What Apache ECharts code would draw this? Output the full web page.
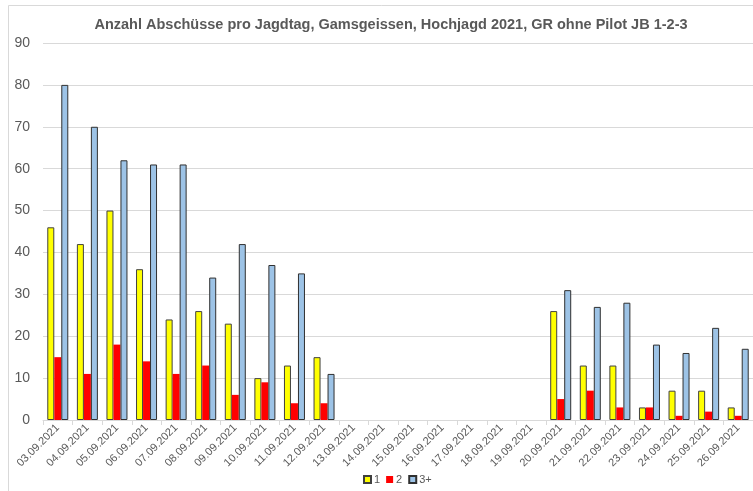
<!DOCTYPE html>
<html>
<head>
<meta charset="utf-8">
<script src="https://cdn.jsdelivr.net/npm/echarts@6/dist/echarts.min.js"></script>
<style>
  html, body { margin: 0; padding: 0; background: #fff; }
  #chart { width: 753px; height: 491px; }
</style>
</head>
<body>
<div id="chart"></div>
<script>
// Jagdtage
var tage = [
  "03.09.2021", "04.09.2021", "05.09.2021", "06.09.2021", "07.09.2021", "08.09.2021",
  "09.09.2021", "10.09.2021", "11.09.2021", "12.09.2021", "13.09.2021", "14.09.2021",
  "15.09.2021", "16.09.2021", "17.09.2021", "18.09.2021", "19.09.2021", "20.09.2021",
  "21.09.2021", "22.09.2021", "23.09.2021", "24.09.2021", "25.09.2021", "26.09.2021"
];
// Abschüsse je Klasse (null = kein Jagdtag / keine Einträge)
var jb1 = [46, 42, 50, 36, 24, 26, 23, 10, 13, 15, null, null, null, null, null, null, null, 26, 13, 13, 3, 7, 7, 3];
var jb2 = [15, 11, 18, 14, 11, 13, 6, 9, 4, 4, null, null, null, null, null, null, null, 5, 7, 3, 3, 1, 2, 1];
var jb3 = [80, 70, 62, 61, 61, 34, 42, 37, 35, 11, null, null, null, null, null, null, null, 31, 27, 28, 18, 16, 22, 17];

var chart = echarts.init(document.getElementById("chart"));

var option = {
  backgroundColor: "#fff",
  animation: false,
  textStyle: { fontFamily: "Liberation Sans, Arial, sans-serif" },
  title: {
    text: "Anzahl Abschüsse pro Jagdtag, Gamsgeissen, Hochjagd 2021, GR ohne Pilot JB 1-2-3",
    left: 386,
    top: 12,
    textAlign: "center",
    textStyle: { fontSize: 14.5, fontWeight: "bold", color: "#595959" }
  },
  legend: {
    data: ["1", "2", "3+"],
    icon: "rect",
    left: 358,
    top: 469,
    itemWidth: 7,
    itemHeight: 7,
    itemGap: 6,
    textStyle: { fontSize: 11, color: "#595959", padding: [0, 0, 0, -2] }
  },
  grid: { left: 43, top: 43, width: 718, bottom: 71 },
  graphic: [
    {
      // Diagrammrahmen
      type: "rect",
      shape: { x: 8.5, y: 5.5, width: 900, height: 700 },
      style: { fill: "none", stroke: "#d9d9d9", lineWidth: 1 },
      silent: true
    }
  ],
  xAxis: {
    type: "category",
    data: tage,
    axisLine: { lineStyle: { color: "#d9d9d9", width: 1 } },
    axisTick: { show: true, length: 5, lineStyle: { color: "#d9d9d9" } },
    axisLabel: { rotate: 45, fontSize: 11, color: "#595959", margin: 6, interval: 0 }
  },
  yAxis: {
    type: "value",
    min: 0,
    max: 90,
    interval: 10,
    axisLine: { show: false },
    axisTick: { show: false },
    splitLine: { lineStyle: { color: "#d9d9d9", width: 1 } },
    axisLabel: { fontSize: 14, color: "#595959", margin: 13 }
  },
  series: [
    {
      name: "1",
      type: "bar",
      data: jb1,
      barWidth: 7,
      barGap: "0%",
      itemStyle: { color: "#ffff00", borderColor: "#404040", borderWidth: 1 }
    },
    {
      name: "2",
      type: "bar",
      data: jb2,
      barWidth: 7,
      barGap: "0%",
      itemStyle: { color: "#ff0000" }
    },
    {
      name: "3+",
      type: "bar",
      data: jb3,
      barWidth: 7,
      barGap: "0%",
      itemStyle: { color: "#9dc3e6", borderColor: "#303030", borderWidth: 1 }
    }
  ]
};

chart.setOption(option);
window.addEventListener("resize", function () {
  chart.resize();
});
</script>
</body>
</html>
